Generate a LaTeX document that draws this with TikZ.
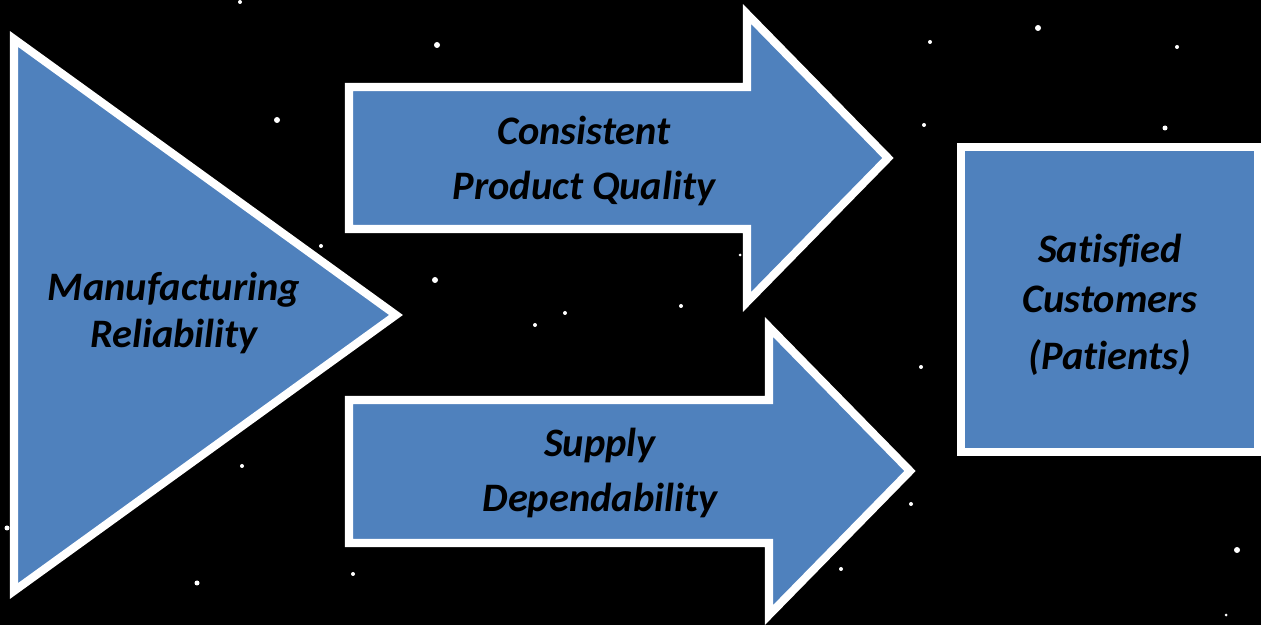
\documentclass[tikz,border=0pt]{standalone}
\usepackage{fontspec}
\setmainfont[Ligatures=NoCommon]{Carlito}
\definecolor{boxblue}{RGB}{79,129,189}
\tikzset{
  blockshape/.style={fill=boxblue, draw=white, line width=2.3pt, line join=miter},
  blocktext/.style={font=\fontsize{11.5}{13.4}\selectfont\bfseries\itshape, text=black, align=center},
  stardot/.style={fill=white}
}
\begin{document}
\begin{tikzpicture}[x=0.01cm, y=0.01cm]
\tikzstyle{every node}+=[inner sep=0pt]
\useasboundingbox (0,0) rectangle (1261,-625);
\fill [black] (0,0) rectangle (1261,-625);
% stars
\foreach \x/\y/\r in {437/45/3, 277/120/3, 1038/28/3, 1165/128/2.5, 1177/47/2, 930/42/2,
  435/280/3, 535/325/2, 565/313/2, 681/306/2, 740/255/1.5, 321/246/2, 242/466/2,
  7/528/2.5, 197/583/2.5, 353/574/2, 921/367/2, 911/504/2, 841/569/2, 1237/550/3,
  924/125/2, 240/2/2, 1226/615/1.5}
  \fill [stardot] (\x,-\y) circle (\r);
% shapes
\draw [blockshape] (14,-39) -- (14,-591) -- (396,-315) -- cycle;
\draw [blockshape] (349,-87) -- (747,-87) -- (747,-14) -- (888,-158) -- (747,-302)
  -- (747,-229) -- (349,-229) -- cycle;
\draw [blockshape] (349,-400) -- (769,-400) -- (769,-327) -- (910,-471) -- (769,-615)
  -- (769,-543) -- (349,-543) -- cycle;
\draw [blockshape] (961,-147) rectangle (1258,-452);
% labels
\node [blocktext] (reliab) at (174,-313) {Manufacturing\\Reliability};
\node [blocktext] (quality) at (584,-161) {Consistent\\[2pt]Product Quality};
\node [blocktext] (supply) at (600,-473) {Supply\\[2.5pt]Dependability};
\node [blocktext] (custom) at (1110,-305) {Satisfied\\[0.8pt]Customers\\[2.8pt](Patients)};
\end{tikzpicture}
\end{document}
